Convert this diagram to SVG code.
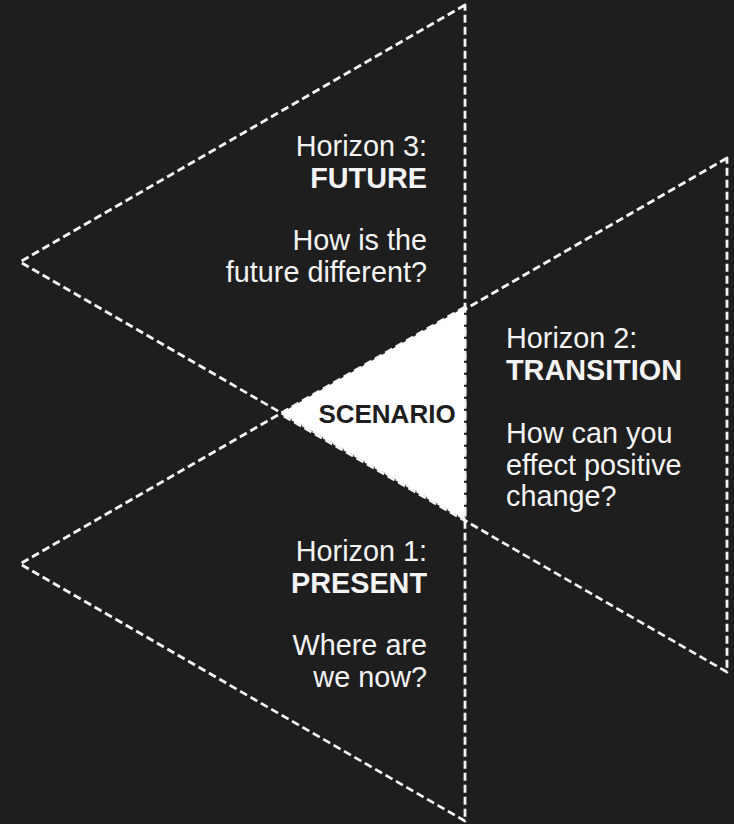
<svg xmlns="http://www.w3.org/2000/svg" width="734" height="824" viewBox="0 0 734 824">
  <style>
    .tri { fill: none; stroke: #f4f4f4; stroke-width: 2.8; stroke-dasharray: 8 4; stroke-linejoin: round; }
    .t { font-family: "Liberation Sans", Arial, sans-serif; font-size: 28.8px; fill: #f4f4f4; }
    .b { font-weight: bold; }
    .end { text-anchor: end; }
    .scen { font-family: "Liberation Sans", Arial, sans-serif; font-size: 26px; font-weight: bold; fill: #1e1e1e; text-anchor: middle; }
  </style>
  <rect width="734" height="824" fill="#1e1e1e"/>
  <g id="horizon3">
    <polygon class="tri" points="465,5 20,262 465,519"/>
    <text class="t end" x="427" y="156">Horizon 3:</text>
    <text class="t b end" x="427" y="188">FUTURE</text>
    <text class="t end" x="427" y="250">How is the</text>
    <text class="t end" x="427" y="282">future different?</text>
  </g>
  <g id="horizon1">
    <polygon class="tri" points="465,307 20,564 465,821"/>
    <text class="t end" x="427" y="561">Horizon 1:</text>
    <text class="t b end" x="427" y="593">PRESENT</text>
    <text class="t end" x="427" y="655">Where are</text>
    <text class="t end" x="427" y="687">we now?</text>
  </g>
  <g id="horizon2">
    <polygon class="tri" points="727,158 282,415 727,672"/>
    <text class="t" x="506" y="348">Horizon 2:</text>
    <text class="t b" x="506" y="380">TRANSITION</text>
    <text class="t" x="506" y="443">How can you</text>
    <text class="t" x="506" y="475">effect positive</text>
    <text class="t" x="506" y="506">change?</text>
  </g>
  <g id="scenario">
    <polygon points="281.2,413 464,307.5 464,518.5" fill="#ffffff"/>
    <text class="scen" x="387" y="423">SCENARIO</text>
  </g>
  <g id="connectors"/>
</svg>
